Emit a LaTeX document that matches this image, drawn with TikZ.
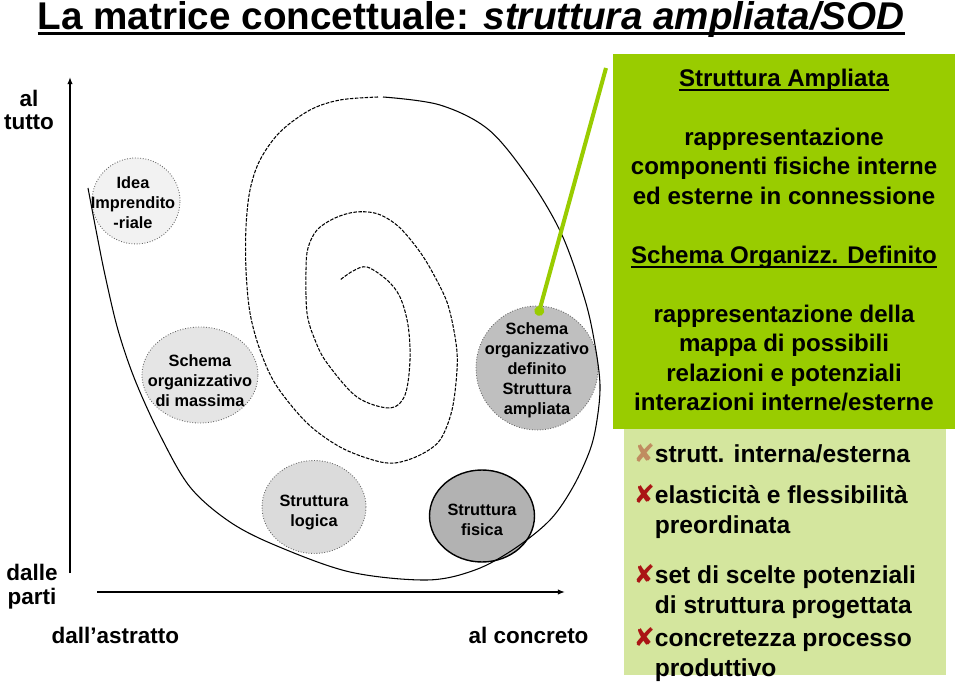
\documentclass[tikz,border=0pt]{standalone}
\usepackage{fontspec}
\setmainfont{Liberation Sans}
\newfontfamily\markfont{DejaVu Sans}
\usetikzlibrary{positioning}
\usetikzlibrary{calc}
\usetikzlibrary{arrows.meta}
\usetikzlibrary{shapes.geometric}
\definecolor{limegreen}{RGB}{153,204,0}
\definecolor{palegreen}{RGB}{212,230,158}
\definecolor{marktan}{RGB}{192,140,96}
\definecolor{markred}{RGB}{170,20,20}
\newlength{\ulnwidth}
\newcommand{\uln}[3]{\settowidth{\ulnwidth}{#3}\rlap{\rule[#1]{\ulnwidth}{#2}}#3}
\newcommand{\crossmark}[1]{{\markfont\fontsize{14.5}{14.5}\selectfont\color{#1}✘}}

\tikzset{
  bubble/.style={ellipse, inner sep=0pt, draw=black!60, densely dotted, line width=0.5pt},
  bubbletext/.style={align=center, inner sep=0pt, font=\fontsize{9.3}{11.4}\selectfont\bfseries},
  axislabel/.style={inner sep=0pt, font=\fontsize{12.8}{13.5}\selectfont\bfseries},
  boxtext/.style={align=center, inner sep=0pt, font=\fontsize{13.7}{16.8}\selectfont\bfseries},
  itemtext/.style={align=left, inner sep=0pt, anchor=north west, font=\fontsize{14}{17.1}\selectfont\bfseries},
  spiraldash/.style={dash pattern=on 2pt off 0.8pt, line width=0.6pt},
  pointer/.style={limegreen, line width=2.3pt, -{Circle[length=5.5pt]}},
  axis/.style={-{Latex[length=4pt,width=3pt]}, line width=0.7pt},
}

\begin{document}
\begin{tikzpicture}[x=0.02cm, y=-0.02cm, line width=0.6pt]
    \useasboundingbox (0,0) rectangle (960,685);

    % title
    \node[anchor=base west, inner sep=0pt, font=\fontsize{22}{26}\selectfont\bfseries] (title) at (37,30)
      {\uln{-2.9pt}{1.5pt}{La matrice concettuale: \textit{struttura ampliata/SOD}}};

    % green boxes
    \fill[palegreen] (624,410) rectangle (946,675);
    \fill[limegreen] (613,54) rectangle (955,429);

    % bubbles
    \node[bubble, fill=black!5, minimum width=1.76cm, minimum height=1.72cm] (idea) at (136,201) {};
    \node[bubble, fill=black!10, minimum width=2.32cm, minimum height=1.92cm] (massima) at (200,375) {};
    \node[bubble, fill=black!14, minimum width=2.08cm, minimum height=1.86cm] (logica) at (314,507) {};
    \node[ellipse, inner sep=0pt, draw=black, line width=0.8pt, fill=black!30, minimum width=2.10cm, minimum height=1.84cm] (fisica) at (482,516) {};
    \node[bubble, fill=black!25, minimum width=2.44cm, minimum height=2.48cm] (defin) at (537,368) {};

    % spiral, solid part
    \draw plot[smooth, tension=0.55] coordinates {(88,188) (96,230) (105,275) (118,330) (135,380) (160,435)
      (190,487) (230,522) (277,546) (350,572) (427,580) (475,570) (514,549) (550,520) (573,487)
      (590,450) (597,420) (600,385) (595,345) (585,300) (562,235) (530,180) (489,130) (440,105) (383,97)};
    % spiral, dashed part
    \draw[spiraldash] plot[smooth, tension=0.55] coordinates {(378,97) (340,100) (310,110) (280,132)
      (260,160) (250,190) (246,227) (246,270) (250,313) (260,350) (276,385) (307,423) (340,447)
      (373,460) (395,463) (420,455) (440,440) (452,410) (457,370) (456,343) (448,305) (435,277)
      (420,252) (399,227) (378,214) (356,212) (335,218) (317,230) (308,248) (306,270) (307,313)
      (315,340) (327,363) (357,397) (390,408) (405,395) (410,360) (408,325) (400,297) (387,280)
      (367,267) (353,271) (340,280)};

    % bubble texts
    \node[bubbletext] (ideaT) at (133,203) {Idea\\Imprendito\\-riale};
    \node[bubbletext] (massimaT) at (200,381) {Schema\\organizzativo\\di massima};
    \node[bubbletext] (logicaT) at (314,513) {Struttura\\logica};
    \node[bubbletext] (fisicaT) at (482,520) {Struttura\\fisica};
    \node[bubbletext] (definT) at (537,370) {Schema\\organizzativo\\definito\\Struttura\\ampliata};

    % axes
    \coordinate (yfoot) at (70,573);
    \coordinate (ytop) at (70,77);
    \coordinate (xfoot) at (97,592);
    \coordinate (xend) at (565,592);
    \draw[axis] (yfoot) -- (ytop);
    \draw[axis] (xfoot) -- (xend);

    % axis labels
    \node[axislabel, align=center] (tutto) at (29,110) {al\\tutto};
    \node[axislabel, align=center] (parti) at (32,587) {dalle\\parti};
    \node[axislabel, anchor=base west] (astratto) at (51,643) {dall’astratto};
    \node[axislabel, anchor=base west] (concreto) at (468,643) {al concreto};

    % pointer
    \coordinate (pointerend) at (606,68);
    \draw[pointer] (pointerend) -- ($(defin.north)+(1,10)$);

    % box text
    \node[boxtext] (boxT) at (784,240) {\uln{-2.6pt}{1pt}{Struttura Ampliata}\\[16.8pt]
      rappresentazione\\componenti fisiche interne\\ed esterne in connessione\\[16.8pt]
      \uln{-2.6pt}{1pt}{Schema Organizz. Definito}\\[16.8pt]
      rappresentazione della\\mappa di possibili\\relazioni e potenziali\\interazioni interne/esterne};

    % items
    \node[itemtext] (it1) at (633,443) {\crossmark{marktan}strutt. interna/esterna};
    \node[itemtext] (it2) at (633,484) {\crossmark{markred}elasticità e flessibilità\\\phantom{\crossmark{markred}}preordinata};
    \node[itemtext] (it3) at (633,564) {\crossmark{markred}set di scelte potenziali\\\phantom{\crossmark{markred}}di struttura progettata};
    \node[itemtext] (it4) at (633,627) {\crossmark{markred}concretezza processo\\\phantom{\crossmark{markred}}produttivo};
\end{tikzpicture}
\end{document}
